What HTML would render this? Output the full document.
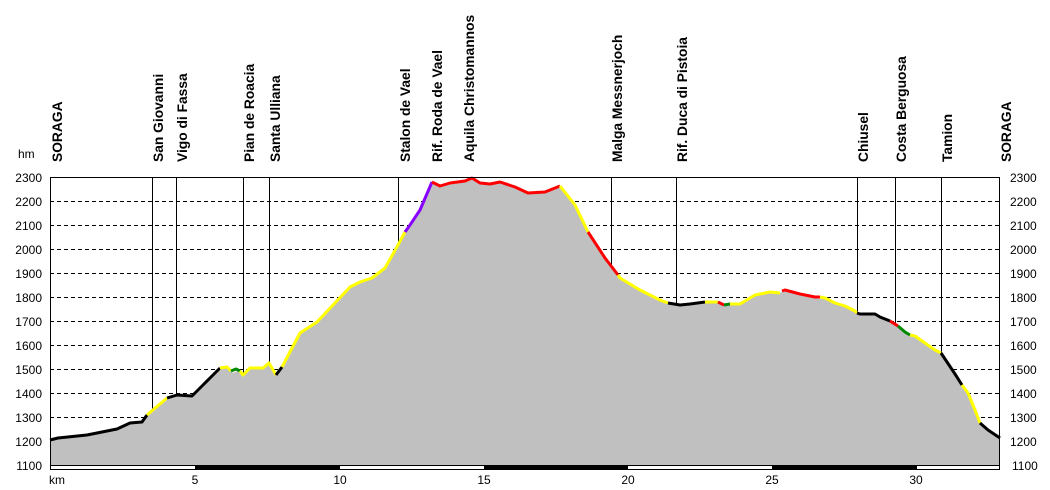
<!DOCTYPE html>
<html><head><meta charset="utf-8"><style>body{margin:0;background:#fff}svg{display:block}text{font-family:"Liberation Sans",sans-serif;font-size:12px;fill:#000}.lb{font-size:13.8px;font-weight:bold}</style></head><body>
<svg width="1050" height="490" viewBox="0 0 1050 490">
<g id="grid" stroke="#000" stroke-dasharray="4,3" stroke-width="1">
<line x1="50" x2="1000" y1="177.5" y2="177.5"/><line x1="50" x2="1000" y1="201.5" y2="201.5"/><line x1="50" x2="1000" y1="225.5" y2="225.5"/><line x1="50" x2="1000" y1="249.5" y2="249.5"/><line x1="50" x2="1000" y1="273.5" y2="273.5"/><line x1="50" x2="1000" y1="297.5" y2="297.5"/><line x1="50" x2="1000" y1="321.5" y2="321.5"/><line x1="50" x2="1000" y1="345.5" y2="345.5"/><line x1="50" x2="1000" y1="369.5" y2="369.5"/><line x1="50" x2="1000" y1="393.5" y2="393.5"/><line x1="50" x2="1000" y1="417.5" y2="417.5"/><line x1="50" x2="1000" y1="441.5" y2="441.5"/>
</g>
<g stroke="#000" stroke-width="1">
<line x1="152.5" x2="152.5" y1="177" y2="415"/><line x1="176.5" x2="176.5" y1="177" y2="396"/><line x1="243.5" x2="243.5" y1="177" y2="374"/><line x1="269.5" x2="269.5" y1="177" y2="364"/><line x1="398.5" x2="398.5" y1="177" y2="246"/><line x1="611.5" x2="611.5" y1="177" y2="265"/><line x1="676.5" x2="676.5" y1="177" y2="304"/><line x1="857.5" x2="857.5" y1="177" y2="312"/><line x1="895.5" x2="895.5" y1="177" y2="323"/><line x1="941.5" x2="941.5" y1="177" y2="353"/>
</g>
<polygon fill="#c0c0c0" points="50,440 58,438 87,435 117,429 130,423 142,422 147,415 167,398 177,395 192,396 203,385 215,373 220,368 227,367 233,373 240,370 243,375 250,368 263,368 269,363 276,375 282,367 300,333 317,322 350,287 360,282 372,278 385,268 398,245 410,225 420,210 432,182 440,186 450,183 465,181 472,178 480,183 490,184 500,182 515,187 528,193 545,192 560,186 575,205 590,235 605,258 620,278 640,290 660,300 668,303 680,305 690,304 705,302 720,303 730,304 740,304 755,295 770,292 780,293 785,290 800,294 815,297 825,298 835,303 845,306 855,311 860,314 875,314 880,317 890,321 895,325 905,331 915,336 935,350 945,359 955,374 962,385 968,393 975,410 980,423 988,430 1000,438 1000,466 50,466"/>
<g fill="none" stroke-width="3" stroke-linejoin="round">
<polyline stroke="#000" points="50,440 58,438 87,435 117,429 130,423 142,422 147,415"/>
<polyline stroke="#ff0" points="147,415 167,398"/>
<polyline stroke="#000" points="167,398 177,395 192,396 203,385 215,373 220,368"/>
<polyline stroke="#ff0" points="220,368 227,367 231,371"/>
<polyline stroke="#080" points="231,371 236,369 240,371"/>
<polyline stroke="#ff0" points="240,371 243,375 250,368 263,368 269,363 276,375"/>
<polyline stroke="#000" points="276,375 282,367"/>
<polyline stroke="#ff0" points="282,367 300,333 317,322 350,287 360,282 372,278 385,268 398,245 405,232"/>
<polyline stroke="#80f" points="405,232 410,225 420,210 432,182"/>
<polyline stroke="#f00" points="432,182 440,186 450,183 465,181 472,178 480,183 490,184 500,182 515,187 528,193 545,192 560,186"/>
<polyline stroke="#ff0" points="560,186 575,205 588,232"/>
<polyline stroke="#f00" points="588,232 590,235 605,258 618,275"/>
<polyline stroke="#ff0" points="618,275 620,278 640,290 660,300 668,303"/>
<polyline stroke="#000" points="668,303 680,305 690,304 705,302"/>
<polyline stroke="#ff0" points="705,302 718,302"/>
<polyline stroke="#f00" points="718,302 724,305"/>
<polyline stroke="#080" points="724,305 730,304"/>
<polyline stroke="#ff0" points="730,304 740,304 755,295 770,292 780,293"/>
<polyline stroke="#f00" points="782,291 785,290 800,294 815,297 820,297"/>
<polyline stroke="#ff0" points="820,297 825,298 835,303 845,306 855,311 857,313"/>
<polyline stroke="#000" points="857,313 860,314 875,314 880,317 890,321"/>
<polyline stroke="#f00" points="890,321 898,326"/>
<polyline stroke="#080" points="898,326 905,332 910,335"/>
<polyline stroke="#ff0" points="910,335 915,336 935,350 941,353"/>
<polyline stroke="#000" points="941,353 945,359 955,374 962,385"/>
<polyline stroke="#ff0" points="962,385 968,393 975,410 980,423"/>
<polyline stroke="#000" points="980,423 988,430 1000,438"/>
</g>
<rect x="50.5" y="177.5" width="949" height="288" fill="none" stroke="#000"/>
<rect x="50.5" y="465.5" width="949" height="4" fill="#fff" stroke="#000"/>
<rect x="195" y="465" width="145" height="5" fill="#000"/><rect x="484" y="465" width="144" height="5" fill="#000"/><rect x="772" y="465" width="145" height="5" fill="#000"/>
<g text-anchor="end">
<text x="42" y="182">2300</text><text x="42" y="206">2200</text><text x="42" y="230">2100</text><text x="42" y="254">2000</text><text x="42" y="278">1900</text><text x="42" y="302">1800</text><text x="42" y="326">1700</text><text x="42" y="350">1600</text><text x="42" y="374">1500</text><text x="42" y="398">1400</text><text x="42" y="422">1300</text><text x="42" y="446">1200</text><text x="42" y="470">1100</text>
</g>
<g>
<text x="1010" y="182">2300</text><text x="1010" y="206">2200</text><text x="1010" y="230">2100</text><text x="1010" y="254">2000</text><text x="1010" y="278">1900</text><text x="1010" y="302">1800</text><text x="1010" y="326">1700</text><text x="1010" y="350">1600</text><text x="1010" y="374">1500</text><text x="1010" y="398">1400</text><text x="1010" y="422">1300</text><text x="1010" y="446">1200</text><text x="1012" y="470">1100</text>
</g>
<text x="18" y="158">hm</text>
<text x="49" y="484">km</text>
<g text-anchor="middle">
<text x="195" y="484">5</text><text x="340" y="484">10</text><text x="484" y="484">15</text><text x="628" y="484">20</text><text x="772" y="484">25</text><text x="916" y="484">30</text>
</g>
<g>
<text class="lb" transform="translate(62,162) rotate(-90)">SORAGA</text>
<text class="lb" transform="translate(163,162) rotate(-90)">San Giovanni</text>
<text class="lb" transform="translate(187,162) rotate(-90)">Vigo di Fassa</text>
<text class="lb" transform="translate(254,162) rotate(-90)">Pian de Roacia</text>
<text class="lb" transform="translate(280,162) rotate(-90)">Santa Ulliana</text>
<text class="lb" transform="translate(410,162) rotate(-90)">Stalon de Vael</text>
<text class="lb" transform="translate(442,162) rotate(-90)">Rif. Roda de Vael</text>
<text class="lb" transform="translate(474,162) rotate(-90)">Aquila Christomannos</text>
<text class="lb" transform="translate(622,162) rotate(-90)">Malga Messnerjoch</text>
<text class="lb" transform="translate(687,162) rotate(-90)">Rif. Duca di Pistoia</text>
<text class="lb" transform="translate(868,162) rotate(-90)">Chiusel</text>
<text class="lb" transform="translate(906,162) rotate(-90)">Costa Berguosa</text>
<text class="lb" transform="translate(952,162) rotate(-90)">Tamion</text>
<text class="lb" transform="translate(1011,162) rotate(-90)">SORAGA</text>
</g>
</svg>
</body></html>
